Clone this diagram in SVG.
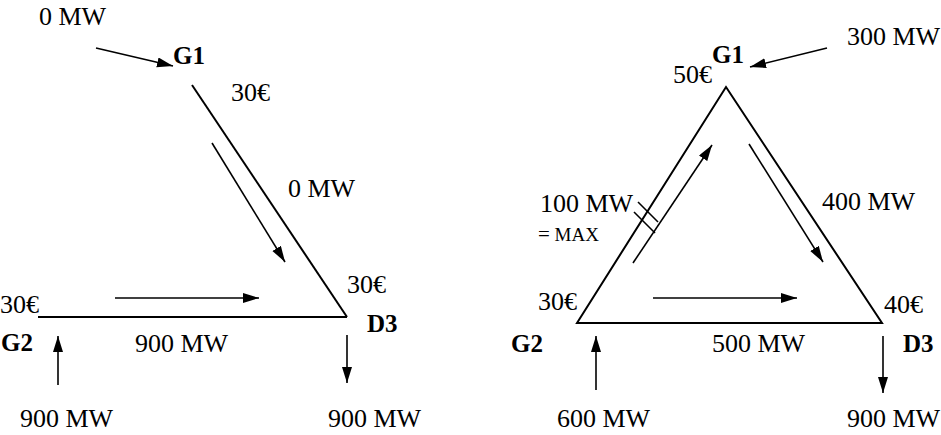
<svg xmlns="http://www.w3.org/2000/svg" width="941" height="435" viewBox="0 0 941 435" font-family="'Liberation Serif', 'Times New Roman', 'DejaVu Serif', serif">
<defs>
<marker id="ah" markerUnits="userSpaceOnUse" markerWidth="17" markerHeight="11" refX="16" refY="5" orient="auto">
<path d="M0,0 L16,5 L0,10 z" fill="#000"/>
</marker>
<style>
.t{font-size:26px;fill:#000}
.b{font-size:25px;font-weight:bold;fill:#000}
.s{font-size:19px;fill:#000}
.edge{stroke:#000;stroke-width:2;fill:none}
.arr{stroke:#000;stroke-width:1.6;fill:none;marker-end:url(#ah)}
.tick{stroke:#000;stroke-width:1.6}
</style>
</defs>
<rect width="941" height="435" fill="#fff"/>

<!-- Left diagram -->
<g id="L_G1">
<text class="b" x="173" y="64">G1</text>
<text class="t" x="231" y="101">30€</text>
<text class="t" x="39" y="25">0 MW</text>
</g>
<g id="L_G2">
<text class="b" x="1" y="351">G2</text>
<text class="t" x="0" y="313">30€</text>
<text class="t" x="20" y="427">900 MW</text>
</g>
<g id="L_D3">
<text class="b" x="367" y="332">D3</text>
<text class="t" x="347" y="293">30€</text>
<text class="t" x="328" y="427">900 MW</text>
</g>
<g id="L_labels">
<text class="t" x="288" y="197">0 MW</text>
<text class="t" x="135" y="352">900 MW</text>
</g>

<!-- Right diagram -->
<g id="R_G1">
<text class="b" x="712" y="63">G1</text>
<text class="t" x="673" y="83">50€</text>
<text class="t" x="847" y="45">300 MW</text>
</g>
<g id="R_G2">
<text class="b" x="511" y="352">G2</text>
<text class="t" x="538" y="310">30€</text>
<text class="t" x="557" y="427">600 MW</text>
</g>
<g id="R_D3">
<text class="b" x="903" y="352">D3</text>
<text class="t" x="884" y="313">40€</text>
<text class="t" x="847" y="427">900 MW</text>
</g>
<g id="R_labels">
<text class="t" x="540" y="212">100 MW</text>
<text class="s" x="538" y="241"><tspan font-size="21">=</tspan> MAX</text>
<text class="t" x="822" y="210">400 MW</text>
<text class="t" x="712" y="352">500 MW</text>
</g>

<g id="connectors">
<line class="edge" x1="192" y1="85" x2="347" y2="317"/>
<line class="edge" x1="38" y1="317" x2="347" y2="317"/>
<line class="arr" x1="96" y1="48" x2="173" y2="66"/>
<line class="arr" x1="212" y1="143" x2="285" y2="262"/>
<line class="arr" x1="115" y1="298" x2="259" y2="298"/>
<line class="arr" x1="58" y1="385" x2="58" y2="336"/>
<line class="arr" x1="347" y1="335" x2="347" y2="383"/>
<path class="edge" d="M577,323 L726,87 L882,323 Z"/>
<line class="arr" x1="827" y1="48" x2="750" y2="67"/>
<line class="arr" x1="633" y1="263" x2="712" y2="145"/>
<line class="arr" x1="749" y1="144" x2="823" y2="262"/>
<line class="arr" x1="653" y1="298" x2="797" y2="298"/>
<line class="arr" x1="596" y1="390" x2="596" y2="336"/>
<line class="arr" x1="883" y1="336" x2="883" y2="393"/>
<line class="tick" x1="638" y1="202" x2="658" y2="222"/>
<line class="tick" x1="634" y1="212" x2="655" y2="233"/>
</g>
</svg>
